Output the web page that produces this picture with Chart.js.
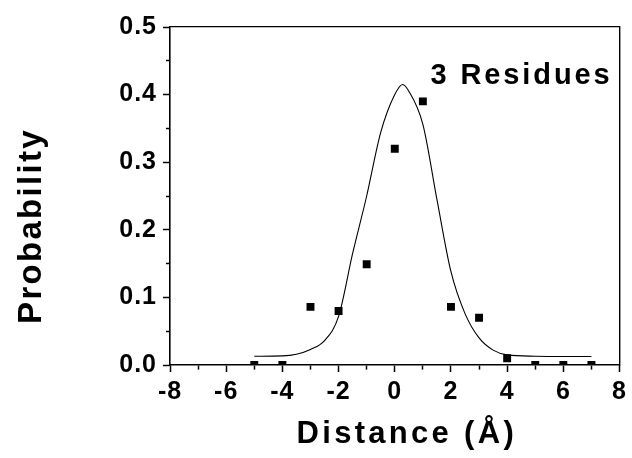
<!DOCTYPE html>
<html>
<head>
<meta charset="utf-8">
<script src="https://cdn.jsdelivr.net/npm/chart.js"></script>
<style>
  html, body { margin: 0; padding: 0; background: #ffffff; }
  #wrap { width: 632px; height: 458px; }
  canvas { display: block; }
</style>
</head>
<body>
<div id="wrap"><canvas id="chart" width="632" height="458"></canvas></div>
<script>
// ---- data ----
const distances     = [-5, -4, -3, -2, -1, 0, 1, 2, 3, 4, 5, 6, 7];
const probabilities = [0, 0, 0.086, 0.080, 0.149, 0.320, 0.390, 0.086, 0.070, 0.010, 0, 0, 0];

// fitted curve
const fitDistances = [-5, -4, -3.5, -3, -2.5, -2, -1.5, -1, -0.5, 0, 0.28, 0.5, 1, 1.5, 2, 2.5, 3, 3.5, 4, 5, 6, 7];
const fitValues    = [0.013, 0.0135, 0.016, 0.023, 0.036, 0.072, 0.165, 0.250, 0.344, 0.400, 0.415, 0.405, 0.356, 0.245, 0.138, 0.076, 0.040, 0.022, 0.015, 0.013, 0.0126, 0.0126];

const xTickValues = [-8, -6, -4, -2, 0, 2, 4, 6, 8];
const xTickLabels = ['-8', '-6', '-4', '-2', '0', '2', '4', '6', '8'];
const yTickLabels = ['0.0', '0.1', '0.2', '0.3', '0.4', '0.5'];

const xTitle = 'Distance (\u00C5)';
const yTitle = 'Probability';
const seriesLabel = '3 Residues';

const FONT = '"Liberation Sans", Arial, Helvetica, sans-serif';

// letter spacing / title placement tweaks
const textTweak = {
  id: 'textTweak',
  beforeLayout(chart) { chart.ctx.letterSpacing = '1px'; },
  beforeDraw(chart) {
    chart.ctx.letterSpacing = '1px';
    const cfg = { x: [12, 0, '3.3px'], y: [0, 30, '2.3px'] };
    Object.keys(cfg).forEach(id => {
      const s = chart.scales[id];
      if (!s || s.__tweaked) return;
      const orig = s.drawTitle;
      const [dx, dy, ls] = cfg[id];
      s.drawTitle = function () {
        const c = this.ctx;
        c.save();
        c.translate(dx, dy);
        c.letterSpacing = ls;
        orig.call(this);
        c.restore();
      };
      s.__tweaked = true;
    });
  },
  afterDatasetsDraw(chart) {
    const c = chart.ctx;
    const xs = chart.scales.x, ys = chart.scales.y;
    c.save();
    c.letterSpacing = '2.9px';
    c.font = 'bold 29px ' + FONT;
    c.fillStyle = '#000';
    c.textAlign = 'left';
    c.textBaseline = 'alphabetic';
    c.fillText(seriesLabel, xs.getPixelForValue(1.27), ys.getPixelForValue(0.416));
    c.restore();
  }
};

const minorDashX = (c) => (c.tick && Math.abs(Math.round(c.tick.value)) % 2 === 1) ? [4, 30] : [];
const minorDashY = (c) => (c.tick && Math.round(c.tick.value * 20) % 2 === 1) ? [0, 3, 4, 30] : [];

new Chart(document.getElementById('chart'), {
  type: 'scatter',
  data: {
    datasets: [
      {
        label: 'fit',
        data: fitDistances.map((x, i) => ({ x: x, y: fitValues[i] })),
        showLine: true,
        borderColor: '#000',
        borderWidth: 1.1,
        pointRadius: 0,
        fill: false,
        cubicInterpolationMode: 'monotone',
        order: 2
      },
      {
        label: seriesLabel,
        data: distances.map((x, i) => ({ x: x, y: probabilities[i] })),
        showLine: false,
        pointStyle: 'rect',
        pointRadius: 5.6,
        pointBorderWidth: 0,
        backgroundColor: '#000',
        borderColor: '#000',
        clip: 0,
        order: 1
      }
    ]
  },
  options: {
    responsive: false,
    animation: false,
    devicePixelRatio: 1,
    layout: { padding: { top: 27, right: 9, left: 0, bottom: 0 } },
    plugins: { legend: { display: false }, tooltip: { enabled: false }, title: { display: false } },
    scales: {
      x: {
        type: 'linear', position: 'bottom', min: -8, max: 8,
        afterFit: (s) => { s.height = 93; },
        ticks: {
          stepSize: 1, autoSkip: false, maxRotation: 0, padding: 5,
          color: '#000', font: { family: FONT, size: 25, weight: 'bold' },
          callback: (v) => { const i = xTickValues.indexOf(v); return i >= 0 ? xTickLabels[i] : ''; }
        },
        grid: { drawOnChartArea: false, drawTicks: true, tickLength: 7, tickColor: '#000', tickWidth: 1.5, tickBorderDash: minorDashX },
        border: { display: true, color: '#000', width: 1.6 },
        title: { display: true, text: xTitle, color: '#000', font: { family: FONT, size: 31, weight: 'bold' }, padding: { top: 0, bottom: 5 } }
      },
      y: {
        type: 'linear', position: 'left', min: 0, max: 0.5,
        afterFit: (s) => { s.width = 170; },
        ticks: {
          stepSize: 0.05, autoSkip: false, padding: 6,
          color: '#000', font: { family: FONT, size: 25, weight: 'bold' },
          callback: (v) => { const k = Math.round(v * 20); return k % 2 === 0 ? yTickLabels[k / 2] : ''; }
        },
        grid: { drawOnChartArea: false, drawTicks: true, tickLength: 7, tickColor: '#000', tickWidth: 1.5, tickBorderDash: minorDashY },
        border: { display: true, color: '#000', width: 1.6 },
        title: { display: true, text: yTitle, color: '#000', font: { family: FONT, size: 33, weight: 'bold' }, padding: { top: 12, bottom: 0 } }
      },
      x2: {
        type: 'linear', position: 'top', min: -8, max: 8,
        afterFit: (s) => { s.height = 0; },
        ticks: { display: false },
        grid: { display: false, drawTicks: false },
        border: { display: true, color: '#000', width: 1.2 }
      },
      y2: {
        type: 'linear', position: 'right', min: 0, max: 0.5,
        afterFit: (s) => { s.width = 0; },
        ticks: { display: false },
        grid: { display: false, drawTicks: false },
        border: { display: true, color: '#000', width: 1.4 }
      }
    }
  },
  plugins: [textTweak]
});
</script>
</body>
</html>
